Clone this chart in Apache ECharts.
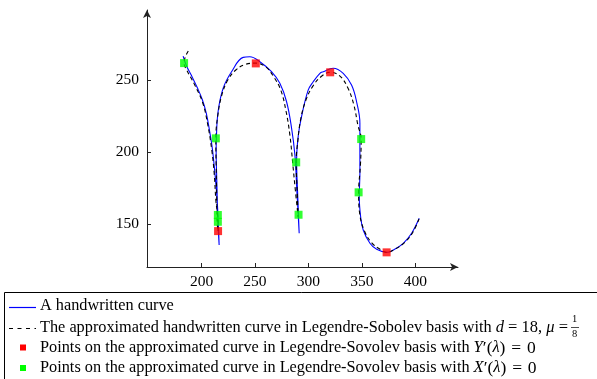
<!DOCTYPE html>
<html>
<head>
<meta charset="utf-8">
<script src="https://cdn.jsdelivr.net/npm/echarts@6/dist/echarts.min.js"></script>
<style>
  html, body { margin: 0; padding: 0; background: #fff; }
  #chart { width: 597px; height: 379px; }
</style>
</head>
<body>
<div id="chart"></div>
<script>
  // tick labels
  var xTicks = [200, 250, 300, 350, 400];
  var yTicks = [150, 200, 250];

  // the handwritten curve (blue)
  var handwritten = [
    [182.8, 266.9], [186.0, 260.0], [190.5, 253.5], [196.0, 245.0], [200.8, 236.5], [204.5, 227.0],
    [207.5, 215.0], [210.3, 201.5], [213.1, 180.6], [215.0, 162.0], [216.5, 135.3],
    [215.3, 152.7], [214.3, 180.6], [213.7, 201.5], [213.9, 209.6], [215.5, 228.1],
    [220.2, 244.4], [228.1, 256.0], [239.0, 266.0], [245.2, 266.4], [254.6, 263.0],
    [265.5, 256.0], [273.3, 247.9], [279.6, 235.1], [284.3, 216.6], [287.4, 198.0],
    [289.2, 173.6], [291.4, 143.5],
    [290.2, 166.6], [289.0, 194.5], [290.6, 211.9], [293.6, 224.7], [299.8, 243.2],
    [304.5, 249.0], [310.8, 254.9], [313.9, 256.0], [323.2, 258.4], [332.6, 254.9],
    [340.4, 246.7], [345.1, 235.1], [348.2, 220.1], [348.2, 185.2], [347.6, 168.9],
    [348.9, 155.0], [351.3, 145.8], [357.6, 136.5], [363.9, 132.3], [373.2, 130.2],
    [379.4, 131.8], [388.8, 136.5], [396.6, 143.5], [403.7, 153.9]
  ];

  // the approximated curve (dashed black)
  var approx = [
    [187.6, 270.4], [184.8, 266.2], [183.7, 262.0], [186.2, 257.2], [193.7, 246.7],
    [201.2, 234.2], [205.9, 218.9], [209.6, 201.5], [212.0, 184.1], [213.4, 166.7],
    [214.8, 157.6], [215.5, 152.7], [215.5, 145.0],
    [214.6, 151.3], [214.3, 166.7], [213.7, 191.0], [213.4, 209.6], [215.3, 225.8],
    [219.0, 239.8], [224.6, 250.2], [232.1, 257.2], [240.5, 261.0], [250.8, 262.0],
    [260.2, 259.3], [267.7, 252.3], [274.2, 243.2], [278.9, 229.3], [282.7, 211.9],
    [285.5, 191.0], [287.8, 173.6], [289.7, 159.7], [290.4, 154.8],
    [289.7, 170.1], [288.6, 192.9], [290.2, 208.4], [293.0, 223.7], [297.7, 236.3],
    [304.2, 246.0], [312.6, 253.0], [320.4, 255.6], [329.5, 253.0], [337.0, 244.6],
    [342.6, 232.8], [346.3, 218.9], [349.4, 209.1], [348.7, 191.0], [347.0, 172.0],
    [348.2, 156.2], [352.9, 144.4], [359.5, 136.7], [367.0, 132.4], [373.2, 130.2],
    [381.0, 132.4], [390.4, 137.3], [397.9, 144.4], [403.5, 153.4]
  ];

  // points with Y'(lambda) = 0 (red) and X'(lambda) = 0 (green)
  var yPrimeZero = [[215.5, 145.0], [250.8, 261.8], [320.4, 255.6], [373.2, 130.2]];
  var xPrimeZero = [[183.7, 262.0], [213.4, 209.6], [215.3, 156.2], [215.3, 151.5],
                    [288.6, 192.9], [290.8, 156.4], [349.4, 209.1], [347.0, 172.0]];

  var serif = 'Liberation Serif';
  var fs = 16.3;
  var rich = {
    n: { fontFamily: serif, fontSize: fs, color: '#000' },
    i: { fontFamily: serif, fontSize: 16.5, fontStyle: 'italic', color: '#000' },
    m: { fontFamily: serif, fontSize: 16.5, color: '#000' },
    w: { fontFamily: serif, fontSize: 17.5, color: '#000' }
  };
  var eq = '\u2005=\u2005';
  var eqWide = '\u2004=\u2004';

  function richText(x, y, str) {
    return {
      type: 'text', left: x, top: y - 9, z: 110,
      style: { text: str, rich: rich, fontFamily: serif, fontSize: fs, fill: '#000' }
    };
  }

  var chart = echarts.init(document.getElementById('chart'));
  chart.setOption({
    animation: false,
    grid: { left: 147, right: 139, top: 10, bottom: 112 },
    xAxis: {
      type: 'value', min: 149, max: 440,
      axisLine: { onZero: false, symbol: ['none', 'arrow'], symbolSize: [6, 8],
        lineStyle: { color: '#222', width: 1 } },
      axisTick: { inside: true, length: 4, customValues: xTicks, lineStyle: { color: '#222' } },
      axisLabel: { customValues: xTicks, margin: 7, color: '#000', fontFamily: serif, fontSize: 15.5 },
      splitLine: { show: false }
    },
    yAxis: {
      type: 'value', min: 120, max: 299,
      axisLine: { show: true, onZero: false, symbol: ['none', 'arrow'], symbolSize: [6, 8],
        lineStyle: { color: '#222', width: 1 } },
      axisTick: { show: true, inside: true, length: 4, customValues: yTicks, lineStyle: { color: '#222' } },
      axisLabel: { customValues: yTicks, margin: 8, color: '#000', fontFamily: serif, fontSize: 15.5 },
      splitLine: { show: false }
    },
    series: [
      {
        name: 'A handwritten curve', type: 'line', data: handwritten,
        showSymbol: false, symbol: 'none', smooth: 0.4,
        lineStyle: { color: '#0000ff', width: 1.1 }
      },
      {
        name: 'approximated', type: 'line', data: approx,
        showSymbol: false, symbol: 'none', smooth: 0.4,
        lineStyle: { color: '#000', width: 1.1, type: [4, 3] }
      },
      {
        name: 'Y0', type: 'scatter', data: yPrimeZero, symbol: 'rect', symbolSize: 8,
        itemStyle: { color: '#ff0000' }, z: 5
      },
      {
        name: 'X0', type: 'scatter', data: xPrimeZero, symbol: 'rect', symbolSize: 8,
        itemStyle: { color: '#00ff00' }, z: 5
      }
    ],
    graphic: [
      { type: 'rect', z: 100, shape: { x: 4.5, y: 292.5, width: 700, height: 200 },
        style: { fill: '#fff', stroke: '#000', lineWidth: 1 } },
      { type: 'line', z: 110, shape: { x1: 9, y1: 307.5, x2: 36, y2: 307.5 },
        style: { stroke: '#0000ff', lineWidth: 1.2 } },
      { type: 'line', z: 110, shape: { x1: 9, y1: 328.5, x2: 36, y2: 328.5 },
        style: { stroke: '#000', lineWidth: 1.1, lineDash: [4, 4.5] } },
      { type: 'rect', z: 110, shape: { x: 20, y: 344.5, width: 6, height: 6 }, style: { fill: '#ff0000' } },
      { type: 'rect', z: 110, shape: { x: 20, y: 365, width: 6, height: 6 }, style: { fill: '#00ff00' } },
      richText(40, 307, '{n|A handwritten curve}'),
      richText(40, 328, '{n|The approximated handwritten curve in Legendre-Sobolev basis with }{i|d}{m|' + eq + '18, }{i|μ}{m|' + eq + '}'),
      { type: 'text', z: 110, left: 572, top: 314, style: { text: '1', fontFamily: serif, fontSize: 10.5, fill: '#000' } },
      { type: 'line', z: 110, shape: { x1: 571, y1: 327.5, x2: 579, y2: 327.5 }, style: { stroke: '#000', lineWidth: 0.7 } },
      { type: 'text', z: 110, left: 572, top: 329, style: { text: '8', fontFamily: serif, fontSize: 10.5, fill: '#000' } },
      richText(40, 348, '{n|Points on the approximated curve in Legendre-Sovolev basis with }{i|Y}{w|\u2032(}{i|λ}{w|)' + eqWide + '0}'),
      richText(40, 368, '{n|Points on the approximated curve in Legendre-Sovolev basis with }{i|X}{w|\u2032(}{i|λ}{w|)' + eqWide + '0}')
    ]
  });
  window.addEventListener('resize', function () { chart.resize(); });
</script>
</body>
</html>
